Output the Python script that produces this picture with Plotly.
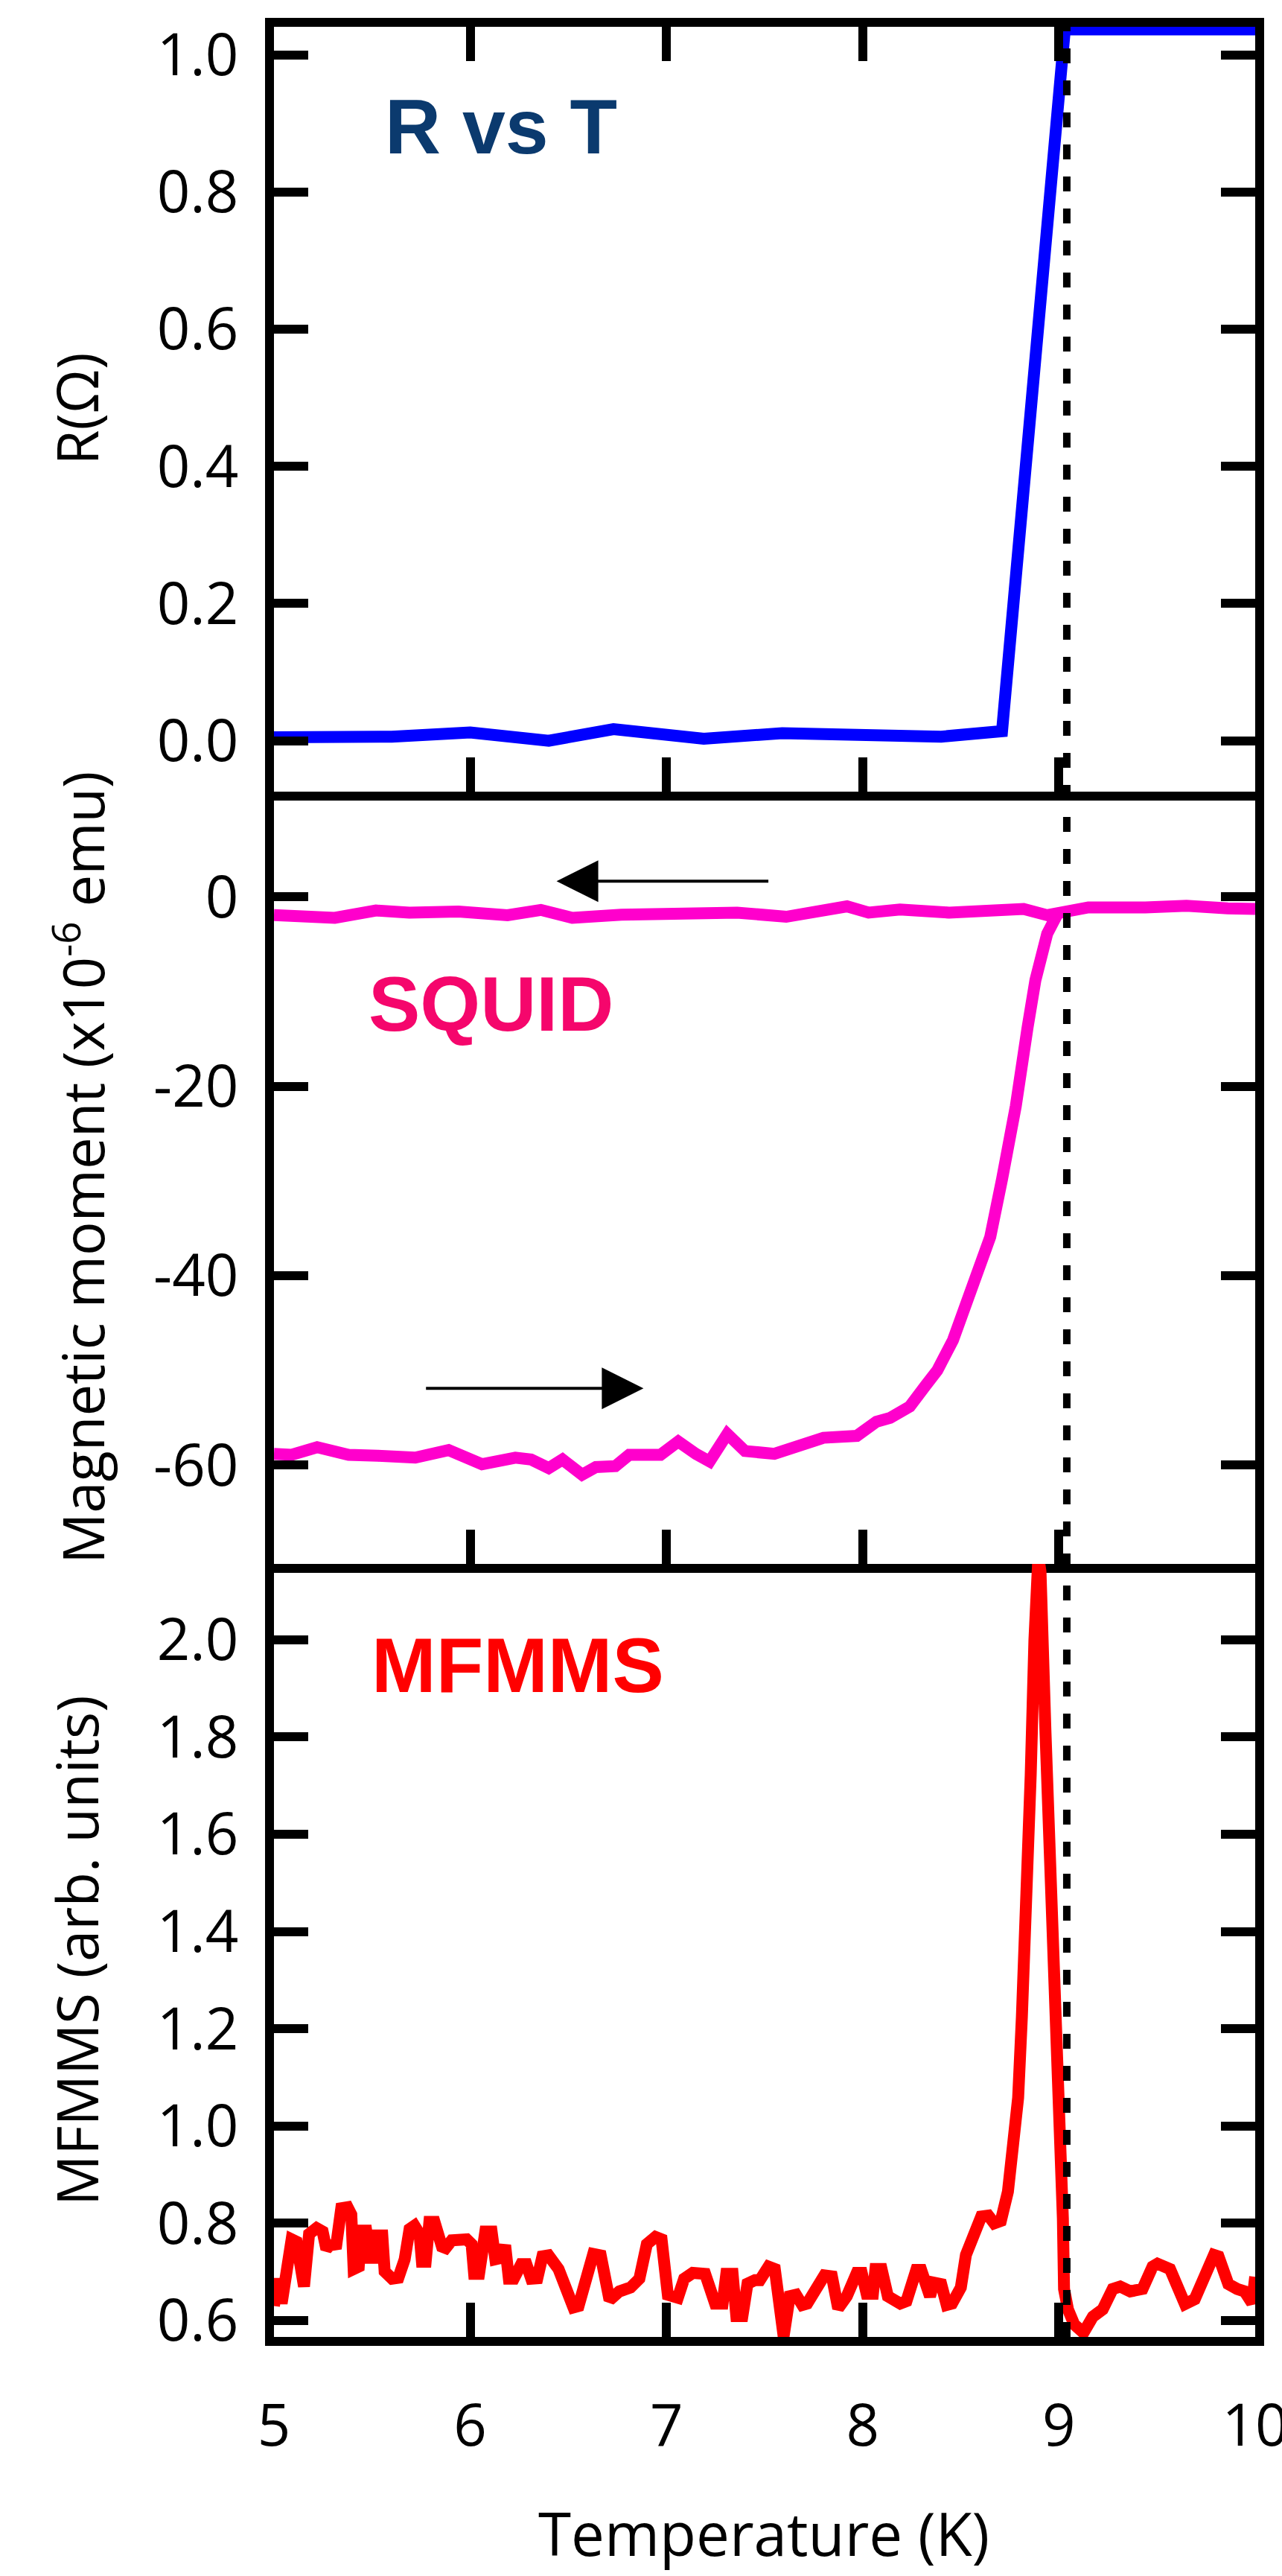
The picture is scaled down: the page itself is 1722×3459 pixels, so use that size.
import plotly.graph_objects as go

# ---------------- data ----------------
T_R = [5.00, 5.60, 6.00, 6.40, 6.73, 7.19, 7.59, 8.40, 8.71, 9.03, 10.00]
R_ohm = [0.005, 0.006, 0.012, 0.000, 0.017, 0.003, 0.011, 0.006, 0.014, 1.037, 1.037]

T_sq_upper = [5.00, 5.31, 5.52, 5.69, 5.94, 6.19, 6.36, 6.52, 6.77, 7.07, 7.36, 7.61,
              7.78, 7.92, 8.03, 8.19, 8.44, 8.82, 8.94, 9.15, 9.44, 9.65, 9.86, 10.00]
M_sq_upper = [-1.93, -2.21, -1.44, -1.66, -1.55, -1.93, -1.38, -2.21, -1.88, -1.77, -1.66, -2.10,
              -1.66, -1.00, -1.66, -1.33, -1.66, -1.27, -1.93, -1.11, -1.11, -0.94, -1.22, -1.27]

T_sq_lower = [5.00, 5.09, 5.22, 5.38, 5.53, 5.72, 5.89, 6.06, 6.23, 6.31, 6.40, 6.47,
              6.57, 6.64, 6.74, 6.81, 6.97, 7.06, 7.15, 7.22, 7.31, 7.40, 7.55, 7.73,
              7.80, 7.97, 8.07, 8.14, 8.24, 8.32, 8.38, 8.46, 8.57, 8.65, 8.71, 8.78,
              8.84, 8.88, 8.94, 8.99]
M_sq_lower = [-58.8, -58.9, -58.1, -58.9, -59.0, -59.2, -58.4, -59.9, -59.2, -59.4, -60.3, -59.4,
              -61.0, -60.2, -60.1, -58.9, -58.9, -57.5, -58.8, -59.6, -56.7, -58.5, -58.8, -57.6,
              -57.1, -56.9, -55.4, -55.0, -53.8, -51.6, -50.0, -46.8, -40.8, -35.9, -29.8, -22.1,
              -13.8, -8.8, -3.9, -1.9]

T_mf = [5.000, 5.020, 5.039, 5.090, 5.115, 5.153, 5.179, 5.217, 5.248, 5.267, 5.286, 5.318,
        5.343, 5.375, 5.394, 5.406, 5.432, 5.444, 5.470, 5.489, 5.508, 5.514, 5.552, 5.564,
        5.602, 5.634, 5.666, 5.691, 5.716, 5.742, 5.754, 5.773, 5.792, 5.818, 5.856, 5.875,
        5.906, 5.957, 5.982, 6.007, 6.020, 6.045, 6.077, 6.109, 6.128, 6.159, 6.178, 6.197,
        6.222, 6.260, 6.286, 6.311, 6.342, 6.368, 6.399, 6.450, 6.488, 6.526, 6.552, 6.590,
        6.627, 6.665, 6.684, 6.710, 6.760, 6.817, 6.862, 6.881, 6.900, 6.944, 6.975, 7.007,
        7.058, 7.090, 7.134, 7.197, 7.248, 7.286, 7.305, 7.337, 7.356, 7.387, 7.413, 7.451,
        7.476, 7.520, 7.552, 7.597, 7.628, 7.660, 7.692, 7.717, 7.755, 7.805, 7.843, 7.875,
        7.919, 7.970, 7.995, 8.020, 8.052, 8.065, 8.096, 8.128, 8.191, 8.223, 8.273, 8.298,
        8.343, 8.362, 8.400, 8.428, 8.455, 8.500, 8.526, 8.564, 8.604, 8.640, 8.670, 8.704,
        8.740, 8.767, 8.792, 8.811, 8.837, 8.856, 8.875, 8.895, 8.906, 8.931, 8.962, 8.988,
        9.007, 9.020, 9.026, 9.046, 9.078, 9.125, 9.173, 9.223, 9.274, 9.312, 9.363, 9.426,
        9.477, 9.502, 9.566, 9.604, 9.642, 9.692, 9.743, 9.790, 9.813, 9.863, 9.908, 9.946,
        9.984, 10.000]
V_mf = [0.630, 0.686, 0.635, 0.767, 0.762, 0.670, 0.778, 0.790, 0.783, 0.747, 0.755, 0.757,
        0.831, 0.833, 0.818, 0.706, 0.711, 0.785, 0.785, 0.729, 0.729, 0.775, 0.775, 0.701,
        0.686, 0.688, 0.726, 0.788, 0.795, 0.778, 0.721, 0.721, 0.803, 0.803, 0.752, 0.749,
        0.765, 0.765, 0.767, 0.757, 0.696, 0.696, 0.783, 0.783, 0.726, 0.729, 0.755, 0.686,
        0.686, 0.716, 0.716, 0.686, 0.687, 0.732, 0.734, 0.706, 0.660, 0.627, 0.630, 0.686,
        0.737, 0.734, 0.686, 0.642, 0.660, 0.668, 0.686, 0.726, 0.757, 0.772, 0.767, 0.653,
        0.647, 0.686, 0.698, 0.696, 0.635, 0.635, 0.696, 0.696, 0.609, 0.609, 0.676, 0.683,
        0.683, 0.711, 0.706, 0.568, 0.650, 0.653, 0.632, 0.635, 0.665, 0.693, 0.691, 0.625,
        0.650, 0.698, 0.698, 0.655, 0.655, 0.706, 0.706, 0.650, 0.635, 0.640, 0.704, 0.704,
        0.650, 0.678, 0.675, 0.632, 0.635, 0.668, 0.735, 0.767, 0.814, 0.816, 0.800, 0.805,
        0.865, 0.965, 1.058, 1.224, 1.452, 1.721, 2.000, 2.170, 2.140, 1.814, 1.513, 1.255,
        1.017, 0.810, 0.665, 0.623, 0.592, 0.575, 0.608, 0.623, 0.665, 0.670, 0.660, 0.665,
        0.711, 0.717, 0.706, 0.670, 0.634, 0.644, 0.696, 0.735, 0.732, 0.675, 0.665, 0.660,
        0.636, 0.690]

T_c = 9.04

x_ticks = [5, 6, 7, 8, 9, 10]
R_ticks = [0.0, 0.2, 0.4, 0.6, 0.8, 1.0]
M_ticks = [-60, -40, -20, 0]
M_tick_text = ["-60", "-40", "-20", "0"]
V_ticks = [0.6, 0.8, 1.0, 1.2, 1.4, 1.6, 1.8, 2.0]

# ---------------- figure ----------------
W, H = 1722, 3459
ML, MR, MT, MB = 368, 36, 36, 321
PH = H - MT - MB
b1 = 1063 - MT
b2 = 2100 - MT
d1 = [1 - b1 / PH, 1]
d2 = [1 - b2 / PH, 1 - b1 / PH]
d3 = [0, 1 - b2 / PH]

BLUE = "#0000ff"
MAGENTA = "#ff00cc"
RED = "#ff0000"
LW = 16

fig = go.Figure()
fig.add_trace(go.Scatter(x=T_R, y=R_ohm, mode="lines", line=dict(color=BLUE, width=LW),
                         xaxis="x", yaxis="y", showlegend=False))
fig.add_trace(go.Scatter(x=T_sq_upper, y=M_sq_upper, mode="lines", line=dict(color=MAGENTA, width=LW),
                         xaxis="x2", yaxis="y2", showlegend=False))
fig.add_trace(go.Scatter(x=T_sq_lower, y=M_sq_lower, mode="lines", line=dict(color=MAGENTA, width=LW),
                         xaxis="x2", yaxis="y2", showlegend=False))
fig.add_trace(go.Scatter(x=T_mf, y=V_mf, mode="lines", line=dict(color=RED, width=LW),
                         xaxis="x3", yaxis="y3", showlegend=False))

TICKFONT = dict(family="Open Sans, Liberation Sans, sans-serif", size=78, color="black")
common = dict(showline=True, linecolor="black", linewidth=12, ticks="inside", ticklen=46,
              tickwidth=12, tickcolor="black", showgrid=False, zeroline=False, tickfont=TICKFONT,
              automargin=False)

fig.update_layout(
    width=W, height=H,
    margin=dict(l=ML, r=MR, t=MT, b=MB, autoexpand=False),
    paper_bgcolor="white", plot_bgcolor="white",
    xaxis=dict(common, domain=[0, 1], range=[5, 10], anchor="y", tickvals=x_ticks,
               mirror="ticks", showticklabels=False),
    xaxis2=dict(common, domain=[0, 1], range=[5, 10], anchor="y2", tickvals=x_ticks,
                matches="x", showticklabels=False),
    xaxis3=dict(common, domain=[0, 1], range=[5, 10], anchor="y3", tickvals=x_ticks,
                matches="x", showticklabels=True, ticklabelstandoff=40, ticklabeloverflow="allow"),
    yaxis=dict(common, domain=d1, range=[-0.0742, 1.0409], anchor="x", mirror="ticks",
               tickvals=R_ticks, tickformat=".1f", ticklabelstandoff=20),
    yaxis2=dict(common, domain=d2, range=[-70.42, 11.11], anchor="x2", mirror="ticks",
                tickvals=M_ticks, ticktext=M_tick_text, ticklabelstandoff=20),
    yaxis3=dict(common, domain=d3, range=[0.5663, 2.156], anchor="x3", mirror="ticks",
                tickvals=V_ticks, tickformat=".1f", ticklabelstandoff=20),
)

# dashed Tc line across all panels
fig.add_shape(type="line", xref="x", yref="paper", x0=T_c, x1=T_c, y0=0, y1=1,
              line=dict(color="black", width=10, dash="20px,23px"), layer="above")

TITLEFONT = dict(family="Open Sans, Liberation Sans, sans-serif", size=76, color="black")
ann = []
ann.append(dict(text="R(Ω)", xref="paper", yref="y domain", x=(102 - ML) / (W - ML - MR), y=0.5,
                xanchor="center", yanchor="middle", textangle=-90, showarrow=False, font=TITLEFONT))
ann.append(dict(text="Magnetic moment (x10<sup>-6</sup> emu)", xref="paper", yref="y2 domain",
                x=(106 - ML) / (W - ML - MR), y=0.513, xanchor="center", yanchor="middle",
                textangle=-90, showarrow=False, font=TITLEFONT))
ann.append(dict(text="MFMMS (arb. units)", xref="paper", yref="y3 domain", x=(102 - ML) / (W - ML - MR),
                y=0.5, xanchor="center", yanchor="middle", textangle=-90, showarrow=False, font=TITLEFONT))
ann.append(dict(text="Temperature (K)", xref="paper", yref="paper", x=0.499, y=-(3457 - 3138) / PH,
                xanchor="center", yanchor="bottom", showarrow=False,
                font=dict(family="Open Sans, Liberation Sans, sans-serif", size=80, color="black")))

LABELFONT = "Liberation Sans, Arial, Helvetica, sans-serif"
ann.append(dict(text="<b>R vs T</b>", xref="x", yref="y", x=6.156, y=0.895, xanchor="center",
                yanchor="middle", showarrow=False, font=dict(family=LABELFONT, size=104, color="#0b3a6e")))
ann.append(dict(text="<b>SQUID</b>", xref="x2", yref="y2", x=6.105, y=-11.3, xanchor="center",
                yanchor="middle", showarrow=False, font=dict(family=LABELFONT, size=104, color="#f5066c")))
ann.append(dict(text="<b>MFMMS</b>", xref="x3", yref="y3", x=6.241, y=1.947, xanchor="center",
                yanchor="middle", showarrow=False, font=dict(family=LABELFONT, size=104, color=RED)))

# arrows in SQUID panel
ann.append(dict(text="", x=6.44, y=1.65, ax=7.525, ay=1.65, xref="x2", yref="y2", axref="x2", ayref="y2",
                showarrow=True, arrowhead=2, arrowsize=2.8, arrowwidth=4, arrowcolor="black"))
ann.append(dict(text="", x=6.883, y=-51.89, ax=5.769, ay=-51.89, xref="x2", yref="y2", axref="x2",
                ayref="y2", showarrow=True, arrowhead=2, arrowsize=2.8, arrowwidth=4, arrowcolor="black"))

fig.update_layout(annotations=ann)

fig.write_html("out.html")
